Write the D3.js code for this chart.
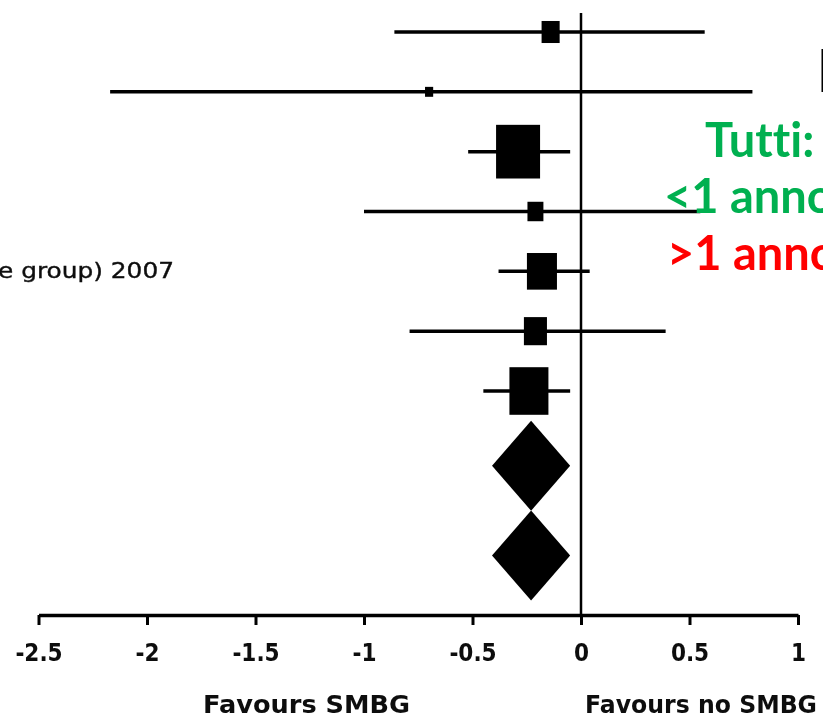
<!DOCTYPE html>
<html>
<head>
<meta charset="utf-8">
<script src="https://cdn.jsdelivr.net/npm/d3@7"></script>
<style>
  body { margin: 0; background: #fff; }
  svg { display: block; }
</style>
</head>
<body>
<svg id="chart" width="823" height="717"></svg>
<script>
// Study rows (top to bottom): mean difference in HbA1c, 95% CI, weight (%)
const rowLabels  = ["", "", "", "", "e group) 2007", "", ""];
const estimates  = [-0.14, -0.70, -0.29, -0.21, -0.18, -0.21, -0.24];
const lowerCI    = [-0.86, -2.17, -0.52, -1.00, -0.38, -0.79, -0.45];
const upperCI    = [ 0.57,  0.79, -0.05,  0.55,  0.04,  0.39, -0.05];
const weights    = [ 5.9,   1.2,  35.0,   4.6,  16.3,   9.6,  27.5];

// Pooled estimates (diamonds)
const pooledRows = [7.25, 8.75];
const pooledEst  = [-0.23, -0.23];
const pooledLow  = [-0.41, -0.41];
const pooledHigh = [-0.05, -0.05];

// Axis
const tickValues = [-2.5, -2, -1.5, -1, -0.5, 0, 0.5, 1];
const tickLabels = ["-2.5", "-2", "-1.5", "-1", "-0.5", "0", "0.5", "1"];
const favourLabels = ["Favours SMBG", "Favours no SMBG"];

// Subgroup annotation
const noteLines  = ["Tutti:", "<1 anno", ">1 anno"];
const noteColors = ["#00b050", "#00b050", "#ff0000"];

const svg = d3.select("#chart");

const defs = svg.append("defs");
defs.append("filter").attr("id", "soft")
  .append("feGaussianBlur").attr("stdDeviation", 0.4);

const x = d3.scaleLinear().domain([-2.5, 1]).range([38.5, 798]);
const y = d3.scaleLinear().domain([0, 6]).range([32, 391]);
const boxW = d3.scaleSqrt().domain([0, 35]).range([0, 44]);
const axisY = 615;

const g = svg.append("g").attr("filter", "url(#soft)");

// line of no effect
g.append("line")
  .attr("x1", x(0)).attr("x2", x(0))
  .attr("y1", 13).attr("y2", axisY)
  .attr("stroke", "#000").attr("stroke-width", 2.5);

// confidence intervals
const rows = estimates.map((e, i) => ({ i, e, lo: lowerCI[i], hi: upperCI[i], w: weights[i] }));

g.selectAll("line.ci").data(rows).join("line")
  .attr("class", "ci")
  .attr("x1", d => x(d.lo)).attr("x2", d => x(d.hi))
  .attr("y1", d => y(d.i)).attr("y2", d => y(d.i))
  .attr("stroke", "#000").attr("stroke-width", 3.5);

// study weight boxes
g.selectAll("rect.box").data(rows).join("rect")
  .attr("class", "box")
  .attr("x", d => x(d.e) - boxW(d.w) / 2)
  .attr("y", d => y(d.i) - boxW(d.w) * 1.22 / 2)
  .attr("width", d => boxW(d.w))
  .attr("height", d => boxW(d.w) * 1.22)
  .attr("fill", "#000");

// pooled diamonds
const pooled = pooledEst.map((e, i) => ({ r: pooledRows[i], e, lo: pooledLow[i], hi: pooledHigh[i] }));
g.selectAll("path.diamond").data(pooled).join("path")
  .attr("class", "diamond")
  .attr("d", d => {
    const cy = y(d.r), h = 45;
    return `M${x(d.lo)},${cy}L${x(d.e)},${cy - h}L${x(d.hi)},${cy}L${x(d.e)},${cy + h}Z`;
  })
  .attr("fill", "#000");

// axis
const axis = d3.axisBottom(x)
  .tickValues(tickValues)
  .tickFormat((d, i) => tickLabels[i])
  .tickSize(10)
  .tickSizeOuter(0)
  .tickPadding(19);

const ax = g.append("g").attr("transform", `translate(0,${axisY})`).call(axis);
ax.select(".domain").attr("stroke", "#000").attr("stroke-width", 3.5);
ax.selectAll(".tick line").attr("stroke", "#000").attr("stroke-width", 3);
ax.selectAll(".tick text")
  .attr("fill", "#111")
  .style("font-family", "'DejaVu Sans Condensed', 'DejaVu Sans', sans-serif")
  .style("font-weight", "bold")
  .style("font-size", "24px");

// favour labels
g.selectAll("text.favour").data(favourLabels).join("text")
  .attr("class", "favour")
  .attr("x", (d, i) => [203, 585][i])
  .attr("y", 713)
  .attr("textLength", (d, i) => [207, 232][i])
  .attr("lengthAdjust", "spacingAndGlyphs")
  .style("font-family", "'DejaVu Sans', Verdana, sans-serif")
  .style("font-weight", "bold")
  .style("font-size", "25px")
  .attr("fill", "#111")
  .text(d => d);

// study labels
g.selectAll("text.study").data(rows.filter(d => rowLabels[d.i])).join("text")
  .attr("class", "study")
  .attr("x", -2)
  .attr("y", d => y(d.i) + 7)
  .attr("textLength", 176)
  .attr("lengthAdjust", "spacingAndGlyphs")
  .style("font-family", "'DejaVu Sans', Verdana, sans-serif")
  .style("font-size", "22px")
  .attr("fill", "#111")
  .attr("stroke", "#111")
  .attr("stroke-width", 0.4)
  .text(d => rowLabels[d.i]);

// heading fragment at the right edge
svg.append("text")
  .attr("x", 815).attr("y", 92)
  .style("font-family", "Lato, sans-serif")
  .style("font-weight", 300)
  .style("font-size", "62px")
  .attr("fill", "#000")
  .text("H");

// subgroup annotation
svg.selectAll("text.note").data(noteLines).join("text")
  .attr("class", "note")
  .attr("x", (d, i) => [705, 664, 667][i])
  .attr("y", (d, i) => [157, 213, 270][i])
  .style("font-family", "Lato, sans-serif")
  .style("font-weight", "bold")
  .style("font-size", "47px")
  .style("font-variant-ligatures", "none")
  .attr("fill", (d, i) => noteColors[i])
  .text(d => d);
</script>
</body>
</html>
